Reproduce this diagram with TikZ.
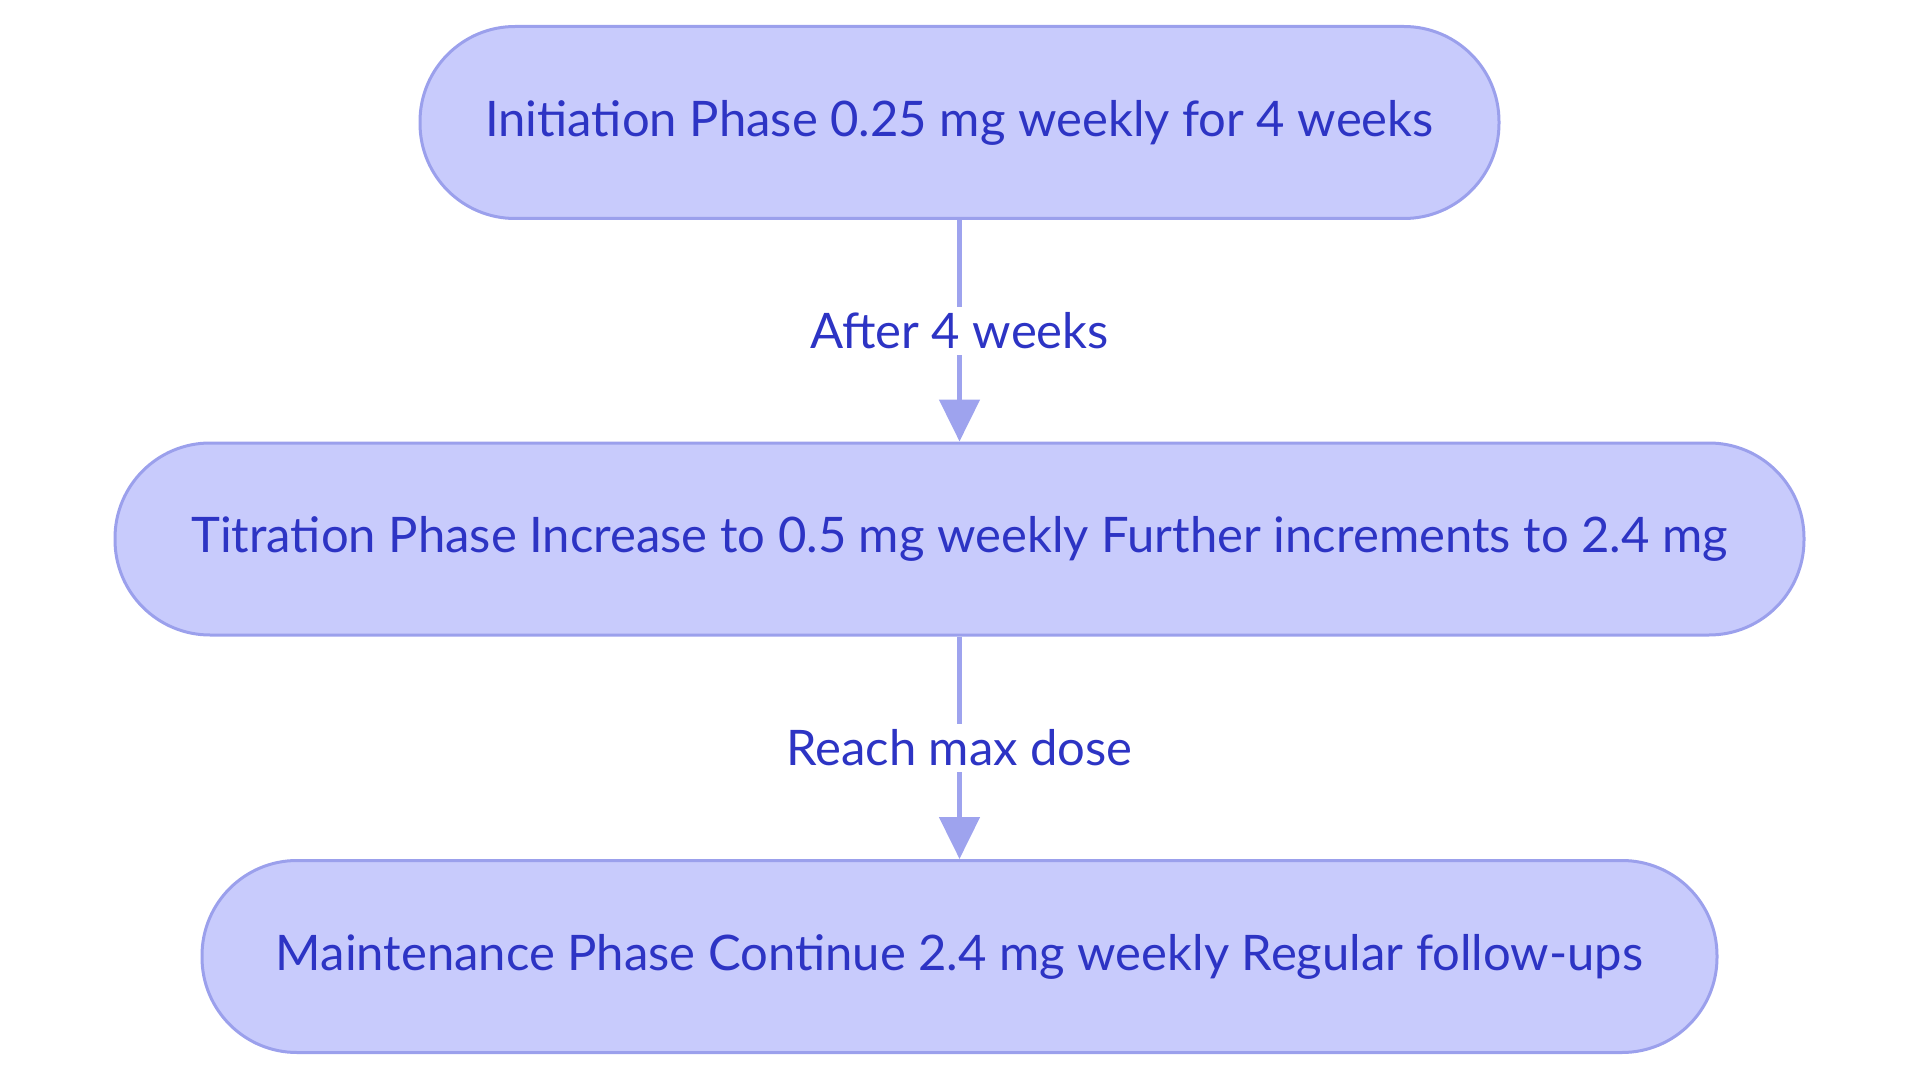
\documentclass[tikz,border=0pt]{standalone}
\usepackage{fontspec}
\setmainfont{Lato}
\usetikzlibrary{arrows.meta}
\definecolor{nodefill}{RGB}{200,203,252}
\definecolor{nodedraw}{RGB}{155,160,236}
\definecolor{txt}{RGB}{45,52,196}
\definecolor{edgecol}{RGB}{158,163,238}
\tikzset{
  phase/.style={draw=nodedraw, fill=nodefill, line width=3pt, rounded corners=95pt,
    minimum height=192pt, inner sep=0pt, text=txt, font=\fontsize{49pt}{53pt}\selectfont},
  link/.style={draw=edgecol, line width=5pt, -{Triangle[width=40pt,length=42pt]}},
  lbl/.style={fill=white, text=txt, inner sep=6pt, font=\fontsize{49pt}{53pt}\selectfont}
}
\begin{document}
\begin{tikzpicture}[x=1pt,y=1pt]
\useasboundingbox (0,0) rectangle (1920,-1083);
\node[phase, minimum width=1079pt] (init) at (959.5,-122.5) {Initiation Phase 0.25 mg weekly for 4 weeks};
\node[phase, minimum width=1689pt] (titr) at (959.5,-539) {Titration Phase Increase to 0.5 mg weekly Further increments to 2.4 mg};
\node[phase, minimum width=1515pt] (maint) at (959.5,-956.5) {Maintenance Phase Continue 2.4 mg weekly Regular follow-ups};
\draw[link] (init.south) -- node[lbl] (l1) {After 4 weeks} (titr.north);
\draw[link] (titr.south) -- node[lbl] (l2) {Reach max dose} (maint.north);
\end{tikzpicture}
\end{document}
